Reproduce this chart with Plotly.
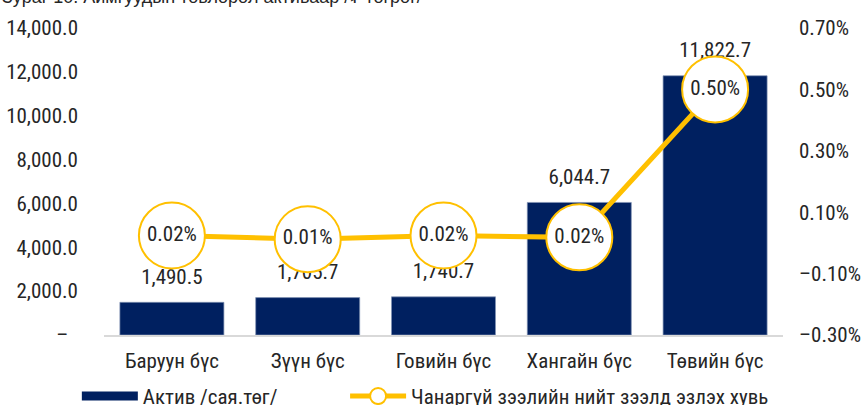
import plotly.graph_objects as go

# ---- data ----
categories = ["Баруун бүс", "Зүүн бүс", "Говийн бүс", "Хангайн бүс", "Төвийн бүс"]
assets = [1490.5, 1705.7, 1740.7, 6044.7, 11822.7]          # сая төгрөг
npl_share = [0.024, 0.012, 0.024, 0.018, 0.50]                # percent
left_tickvals = [0, 2000, 4000, 6000, 8000, 10000, 12000, 14000]
left_ticktext = ["–\u00a0\u00a0", "2,000.0", "4,000.0", "6,000.0", "8,000.0",
                 "10,000.0", "12,000.0", "14,000.0"]
right_tickvals = [-0.3, -0.1, 0.1, 0.3, 0.5, 0.7]
right_ticktext = ["–0.30%", "–0.10%", "0.10%", "0.30%", "0.50%", "0.70%"]
asset_labels = [f"{v:,.1f}" for v in assets]
share_labels = [f"{v:.2f}%" for v in npl_share]
title_text = "Зураг 10. Аймгуудын төвлөрөл активаар /₮ төгрөг/"
bar_name = "Актив /сая.төг/"
line_name = "Чанаргүй зээлийн нийт зээлд эзлэх хувь"

FONT = "Liberation Sans Narrow, Arial Narrow, Roboto Condensed, Liberation Sans, sans-serif"
TXT = "#262626"
NAVY = "#002060"
GOLD = "#FFC000"

fig = go.Figure()

fig.add_trace(go.Bar(
    x=categories, y=assets, name=bar_name,
    marker=dict(color=NAVY, line=dict(color="#8393b5", width=0.7)),
    showlegend=False, hoverinfo="skip",
))

# bar value labels (text placed above each bar top)
fig.add_trace(go.Scatter(
    x=categories, y=assets, mode="markers+text",
    marker=dict(size=20, opacity=0),
    text=asset_labels, textposition="top center",
    textfont=dict(family=FONT, size=21, color=TXT),
    showlegend=False, hoverinfo="skip",
))

# legend proxy for bars (wide rectangle swatch); padded name sets spacing
fig.add_trace(go.Scatter(
    x=[None], y=[None], mode="lines", name=bar_name + "\u00a0" * 13,
    line=dict(color=NAVY, width=9),
))

fig.add_trace(go.Scatter(
    x=categories, y=npl_share, yaxis="y2", mode="lines+markers+text",
    name=line_name,
    line=dict(color=GOLD, width=5),
    marker=dict(size=66, color="white", line=dict(color=GOLD, width=2)),
    text=share_labels, textposition="middle center",
    textfont=dict(family=FONT, size=21, color=TXT),
    hoverinfo="skip",
))

fig.update_layout(
    width=865, height=405,
    margin=dict(l=104, r=82, t=28, b=70, autoexpand=False),
    paper_bgcolor="white", plot_bgcolor="white",
    font=dict(family=FONT, size=21, color=TXT),
    bargap=0.234,
    xaxis=dict(range=[-0.5, 4.5], showline=True, linecolor="#d9d9d9", linewidth=2,
               ticks="", showgrid=False, ticklabelstandoff=6, automargin=False,
               tickfont=dict(family=FONT, size=21, color=TXT)),
    yaxis=dict(range=[0, 14000], tickvals=left_tickvals, ticktext=left_ticktext,
               showgrid=False, zeroline=False, showline=False, ticks="",
               ticklabelstandoff=25, automargin=False,
               tickfont=dict(family=FONT, size=21, color=TXT)),
    yaxis2=dict(range=[-0.3, 0.7], overlaying="y", side="right",
                tickvals=right_tickvals, ticktext=right_ticktext,
                showgrid=False, zeroline=False, showline=False, ticks="",
                ticklabelstandoff=15, automargin=False,
                tickfont=dict(family=FONT, size=21, color=TXT)),
    legend=dict(orientation="h", x=-0.04, xanchor="left", y=-0.2, yanchor="middle",
                font=dict(family=FONT, size=21, color=TXT),
                itemwidth=56, bgcolor="rgba(0,0,0,0)"),
    annotations=[dict(text=title_text, xref="paper", yref="paper",
                      x=-0.153, xanchor="left", y=1.10, yanchor="middle",
                      showarrow=False,
                      font=dict(family="Liberation Sans, Arial, sans-serif", size=18, color=TXT))],
)

fig.write_html("out.html", config={"displayModeBar": False},
               post_script="document.body.style.margin='0';document.body.style.overflow='hidden';")
